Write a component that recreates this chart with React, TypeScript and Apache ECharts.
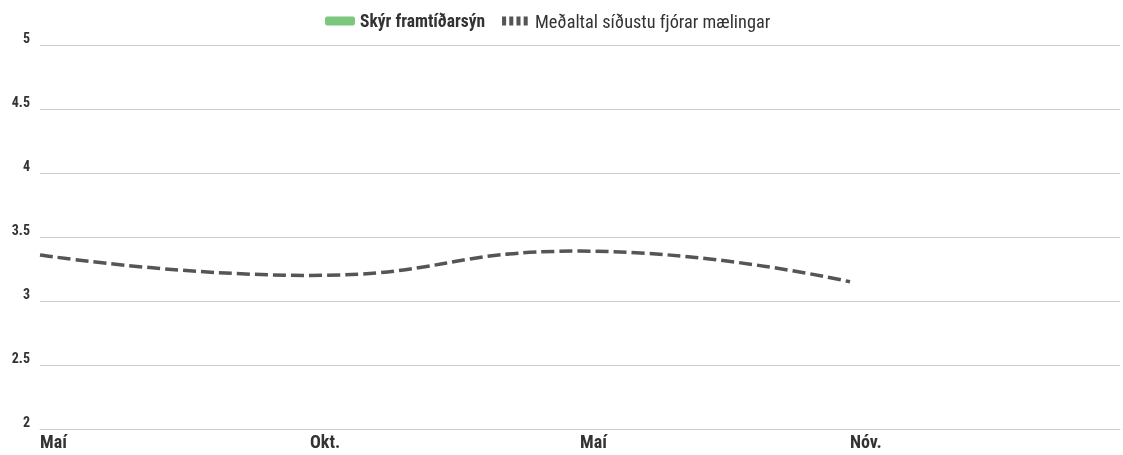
import React, { useEffect, useRef } from "react";
import * as echarts from "echarts";

const categories = ["Maí", "Okt.", "Maí", "Nóv.", ""];
const averageValues: (number | null)[] = [3.36, 3.2, 3.39, 3.15, null];
const visionValues: (number | null)[] = [null, null, null, null, null];
const yTicks = { min: 2, max: 5, interval: 0.5 };

const FONT = "'Roboto Condensed', 'Liberation Sans Narrow', 'Arial Narrow', Roboto, sans-serif";
const VISION = "Skýr framtíðarsýn";
const AVERAGE = "Meðaltal síðustu fjórar mælingar";

export default function App() {
  const ref = useRef<HTMLDivElement>(null);
  useEffect(() => {
    if (!ref.current) return;
    const chart = echarts.init(ref.current, null, { renderer: "svg" });
    chart.setOption({
      animation: false,
      textStyle: { fontFamily: FONT },
      legend: {
        top: 7,
        left: 320,
        itemGap: 17,
        itemWidth: 30,
        itemHeight: 9,
        textStyle: { fontFamily: FONT, fontSize: 18.3, color: "#333" },
        data: [
          { name: VISION, icon: "roundRect", textStyle: { fontWeight: "bold", fontSize: 17.5 } },
          {
            name: AVERAGE,
            icon: "path://M0,0h4.5v10h-4.5z M8,0h4.5v10h-4.5z M16,0h4.5v10h-4.5z M24,0h4.5v10h-4.5z",
            itemStyle: { color: "#555" },
          },
        ],
      },
      grid: { left: 40, right: 0, top: 45, bottom: 26, containLabel: false },
      xAxis: {
        type: "category",
        data: categories,
        boundaryGap: false,
        axisLine: { show: true, lineStyle: { color: "#ccc", width: 1 } },
        axisTick: { show: false },
        axisLabel: {
          align: "left",
          margin: 3,
          fontFamily: FONT,
          fontSize: 18,
          fontWeight: "bold",
          color: "#333",
        },
      },
      yAxis: {
        type: "value",
        min: yTicks.min,
        max: yTicks.max,
        interval: yTicks.interval,
        axisLine: { show: false },
        axisTick: { show: false },
        splitLine: { lineStyle: { color: "#ccc", width: 1 } },
        axisLabel: {
          margin: 10,
          fontFamily: FONT,
          fontSize: 14,
          fontWeight: "bold",
          color: "#333",
          verticalAlign: "bottom",
        },
      },
      series: [
        {
          name: VISION,
          type: "bar",
          data: visionValues,
          itemStyle: { color: "#7cc67e" },
        },
        {
          name: AVERAGE,
          type: "bar",
          data: [null, null, null, null, null],
          itemStyle: { color: "#555" },
        },
        {
          name: AVERAGE,
          type: "line",
          data: averageValues,
          smooth: true,
          showSymbol: false,
          itemStyle: { color: "#555" },
          lineStyle: { color: "#555", width: 3.5, type: [13, 5] },
        },
      ],
    });
    return () => chart.dispose();
  }, []);
  return (
    <div
      ref={ref}
      style={{ position: "fixed", left: 0, top: 0, width: 1123, height: 455 }}
    />
  );
}
